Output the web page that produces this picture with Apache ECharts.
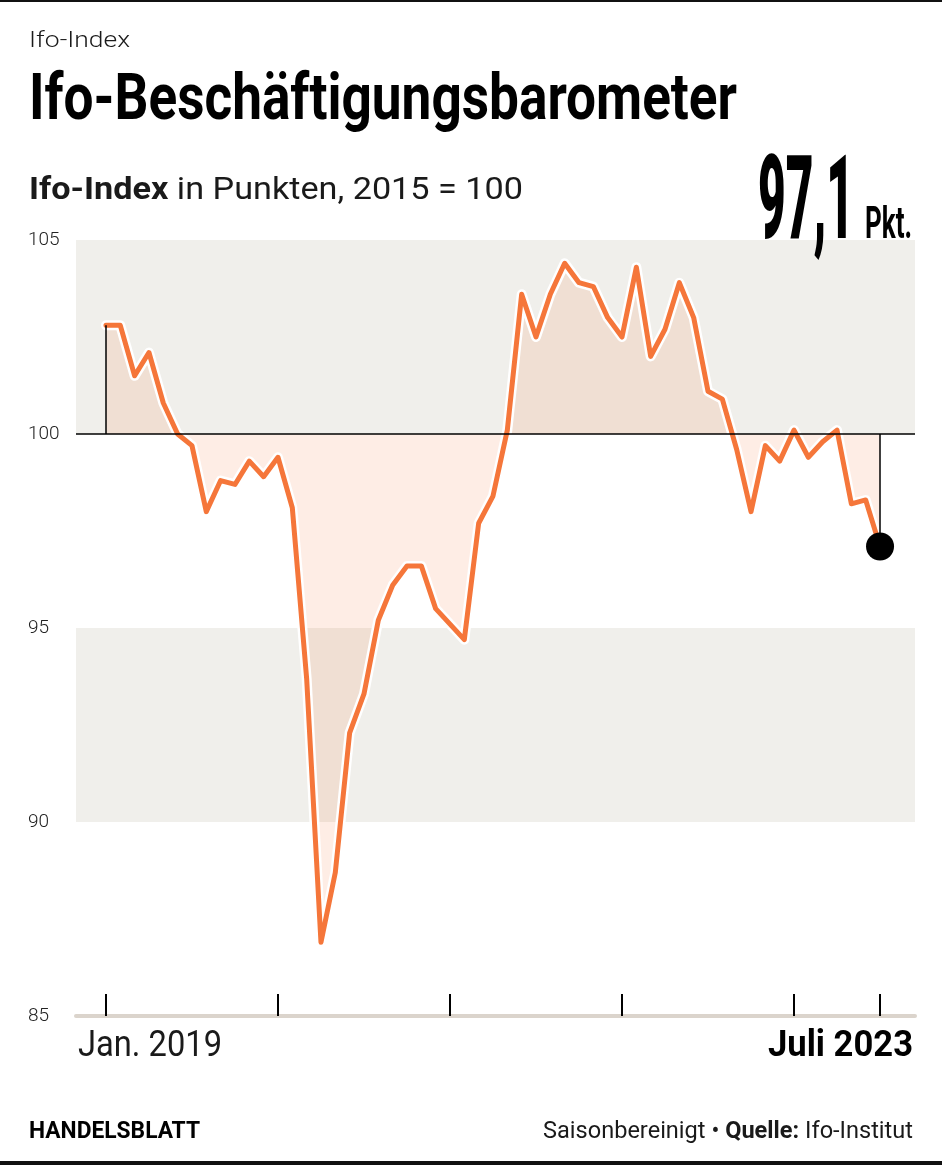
<!DOCTYPE html>
<html>
<head>
<meta charset="utf-8">
<script src="https://cdn.jsdelivr.net/npm/echarts@6/dist/echarts.min.js"></script>
<style>
html,body{margin:0;padding:0;background:#fff;}
#chart{width:942px;height:1165px;}
</style>
</head>
<body>
<div id="chart"></div>
<script>
// ---- data ----
const months = [];
const startYear = 2019;
for (let i = 0; i < 55; i++) {
  months.push((startYear + Math.floor(i / 12)) + '-' + String(i % 12 + 1).padStart(2, '0'));
}
const values = [
  102.8,102.8,101.5,102.1,100.8,100.0,99.7,98.0,98.8,98.7,99.3,98.9,
  99.4,98.1,93.7,86.9,88.7,92.3,93.3,95.2,96.1,96.6,96.6,95.5,
  95.1,94.7,97.7,98.4,100.1,103.6,102.5,103.6,104.4,103.9,103.8,103.0,
  102.5,104.3,102.0,102.7,103.9,103.0,101.1,100.9,99.6,98.0,99.7,99.3,
  100.1,99.4,99.8,100.1,98.2,98.3,97.1
];
const yTicks = [85, 90, 95, 100, 105];
const xTickIdx = [0, 12, 24, 36, 48, 54];
const xLabels = ['Jan. 2019', 'Juli 2023'];
const baseValue = 100;
const bands = [[100, 105], [90, 95]];
const kicker = 'Ifo-Index';
const title = 'Ifo-Beschäftigungsbarometer';
const subtitleBold = 'Ifo-Index';
const subtitleRest = ' in Punkten, 2015 = 100';
const lastValueText = '97,1';
const unitText = 'Pkt.';
const brand = 'HANDELSBLATT';
const sourcePieces = ['Saisonbereinigt • ', 'Quelle:', ' Ifo-Institut'];

// ---- layout helpers ----
const FONT = 'Roboto, "Noto Sans", sans-serif';
const mctx = document.createElement('canvas').getContext('2d');
function run(pieces, o) {
  let widths = pieces.map(p => { mctx.font = p.w + ' ' + p.s + 'px ' + FONT; return mctx.measureText(p.t).width; });
  const total = widths.reduce((a, b) => a + b, 0);
  const s = o.width / total;
  const x0 = (o.left !== undefined) ? o.left : (o.right - o.width);
  let acc = 0;
  return pieces.map((p, i) => {
    const el = {
      type: 'text', x: x0 + acc * s, y: o.cy, scaleX: s, z: 100,
      style: { text: p.t, font: p.w + ' ' + p.s + 'px ' + FONT, fill: o.fill || '#1a1a1a', align: 'left', verticalAlign: 'middle' }
    };
    acc += widths[i];
    return el;
  });
}

const graphics = [].concat(
  [{ type: 'rect', shape: { x: 0, y: 0, width: 942, height: 2 }, style: { fill: '#111' } },
   { type: 'rect', shape: { x: 0, y: 1161, width: 942, height: 4 }, style: { fill: '#111' } }],
  run([{ t: kicker, w: 300, s: 22 }], { left: 29, width: 101, cy: 41 }),
  run([{ t: title, w: 700, s: 64 }], { left: 29, width: 708, cy: 103, fill: '#000' }),
  run([{ t: subtitleBold, w: 700, s: 31 }, { t: subtitleRest, w: 400, s: 31 }], { left: 29, width: 494, cy: 191 }),
  run([{ t: lastValueText, w: 900, s: 116 }], { left: 758, width: 96, cy: 209, fill: '#000' }),
  run([{ t: unitText, w: 700, s: 44 }], { left: 865, width: 47, cy: 227, fill: '#000' }),
  run([{ t: xLabels[0], w: 400, s: 36 }], { left: 78, width: 144, cy: 1047 }),
  run([{ t: xLabels[1], w: 700, s: 36 }], { right: 913, width: 145, cy: 1047, fill: '#000' }),
  run([{ t: brand, w: 700, s: 24 }], { left: 29, width: 171, cy: 1132, fill: '#000' }),
  run([{ t: sourcePieces[0], w: 400, s: 24 }, { t: sourcePieces[1], w: 700, s: 24 }, { t: sourcePieces[2], w: 400, s: 24 }],
      { right: 913, width: 370, cy: 1132 })
);

const seriesData = values.map((v, i) => [i, v]);
const lastIdx = values.length - 1;
const ORANGE = '#f5763a';

const chart = echarts.init(document.getElementById('chart'), null, { renderer: 'canvas', width: 942, height: 1165 });
chart.setOption({
  animation: false,
  grid: { left: 76, right: 27, top: 240, bottom: 149, containLabel: false },
  xAxis: {
    type: 'value', min: -2.09, max: 56.44,
    axisLine: { show: true, lineStyle: { color: '#dbd4cc', width: 4 } },
    axisTick: { show: true, customValues: xTickIdx, inside: true, length: 22, lineStyle: { color: '#000', width: 2 } },
    axisLabel: { show: false },
    splitLine: { show: false }
  },
  yAxis: {
    type: 'value', min: yTicks[0], max: yTicks[yTicks.length - 1], interval: 5,
    axisLine: { show: false }, axisTick: { show: false }, splitLine: { show: false },
    axisLabel: { align: 'left', margin: 48, fontFamily: FONT, fontWeight: 300, fontSize: 19, color: '#222' }
  },
  series: [
    {
      type: 'line', data: [], z: 1, silent: true,
      markArea: {
        silent: true, itemStyle: { color: '#f0efeb', opacity: 1 },
        data: bands.map(b => [{ yAxis: b[0] }, { yAxis: b[1] }])
      }
    },
    {
      type: 'line', data: seriesData, z: 2, symbol: 'none', silent: true,
      lineStyle: { color: '#ffffff', width: 10, join: 'round', cap: 'round' },
      areaStyle: { origin: baseValue, color: 'rgba(245,110,45,0.12)', opacity: 1 }
    },
    {
      type: 'line', data: [], z: 3, silent: true,
      markLine: {
        silent: true, symbol: 'none', label: { show: false },
        lineStyle: { color: '#000', width: 1.5, type: 'solid', opacity: 1 },
        data: [
          { yAxis: baseValue },
          [{ coord: [0, baseValue] }, { coord: [0, values[0]] }],
          [{ coord: [lastIdx, baseValue] }, { coord: [lastIdx, values[lastIdx]] }]
        ]
      }
    },
    {
      type: 'line', data: seriesData, z: 4, symbol: 'none', silent: true,
      lineStyle: { color: ORANGE, width: 5, join: 'round', cap: 'round' }
    },
    {
      type: 'scatter', data: [seriesData[lastIdx]], z: 5, symbolSize: 28, silent: true,
      itemStyle: { color: '#000', opacity: 1 }
    }
  ],
  graphic: graphics
});
</script>
</body>
</html>
